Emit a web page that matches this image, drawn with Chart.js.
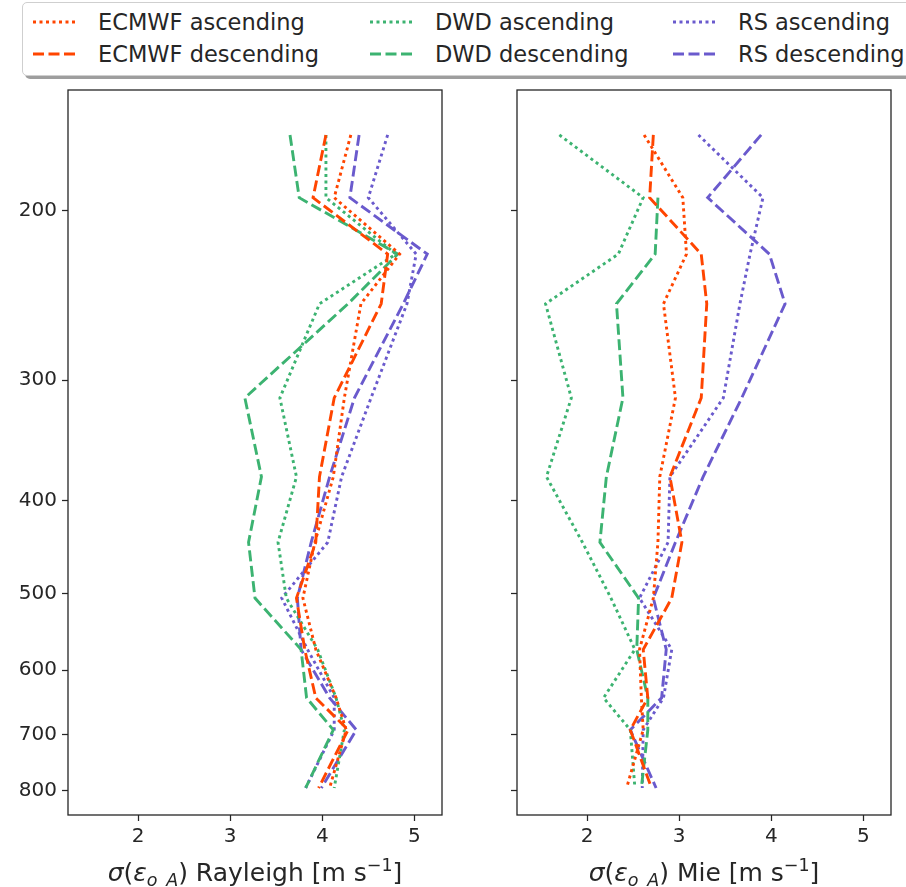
<!DOCTYPE html>
<html>
<head>
<meta charset="utf-8">
<script src="https://cdn.jsdelivr.net/npm/chart.js@4.4.1/dist/chart.umd.min.js"></script>
<style>
  html, body { margin: 0; padding: 0; background: #fff; }
  body { width: 906px; height: 887px; overflow: hidden; position: relative; font-family: "DejaVu Sans", sans-serif; color: #262626; }
  .panel { position: absolute; top: 80px; width: 453px; height: 807px; }
  #legend {
    position: absolute; left: 22px; top: 2px; width: 920px; height: 72px;
    border: 1px solid #cfcfcf; border-radius: 5px; background: #fff;
    box-shadow: 3px 3px 0 rgba(0, 0, 0, 0.38);
  }
  .item { position: absolute; font-size: 22.5px; line-height: 26px; white-space: nowrap; }
  .item svg { position: absolute; }
</style>
</head>
<body>
<div id="legend"></div>
<div class="panel" style="left:0"><canvas id="rayleighChart" width="453" height="807"></canvas></div>
<div class="panel" style="left:453px"><canvas id="mieChart" width="453" height="807"></canvas></div>
<script>
// pressure levels (hPa) of the profile points
const levels = [167, 194, 222, 250, 313, 378, 442, 505, 571, 641, 692, 795];
const pressureTicks = [200, 300, 400, 500, 600, 700, 800];
const sigmaTicks = [2, 3, 4, 5];

// Rayleigh panel
const rayEcmwfAsc  = [4.31, 4.13, 4.84, 4.42, 4.24, 4.12, 3.92, 3.79, 3.93, 4.15, 4.26, 4.08];
const rayEcmwfDesc = [4.04, 3.90, 4.71, 4.64, 4.13, 3.97, 3.93, 3.72, 3.81, 3.93, 4.28, 3.96];
const rayDwdAsc    = [4.04, 4.04, 4.80, 3.97, 3.54, 3.72, 3.52, 3.61, 3.95, 4.15, 4.24, 4.13];
const rayDwdDesc   = [3.65, 3.75, 4.82, 4.28, 3.16, 3.34, 3.20, 3.27, 3.77, 3.83, 4.12, 3.82];
const rayRsAsc     = [4.71, 4.50, 5.02, 4.92, 4.53, 4.21, 4.06, 3.56, 3.84, 4.13, 4.13, 3.82];
const rayRsDesc    = [4.40, 4.30, 5.14, 4.88, 4.35, 4.08, 3.88, 3.73, 3.77, 4.08, 4.37, 3.99];

// Mie panel
const mieEcmwfAsc  = [2.62, 3.04, 3.08, 2.83, 2.96, 2.79, 2.77, 2.72, 2.57, 2.59, 2.61, 2.43];
const mieEcmwfDesc = [2.72, 2.68, 3.24, 3.30, 3.24, 2.90, 3.03, 2.92, 2.61, 2.66, 2.47, 2.70];
const mieDwdAsc    = [1.70, 2.61, 2.34, 1.55, 1.83, 1.56, 1.95, 2.26, 2.52, 2.18, 2.47, 2.52];
const mieDwdDesc   = [null, 2.77, 2.74, 2.32, 2.39, 2.21, 2.14, 2.56, 2.54, 2.66, 2.66, 2.59];
const mieRsAsc     = [3.21, 3.91, 3.77, 3.66, 3.48, 2.90, 2.88, 2.57, 2.92, 2.83, 2.61, 2.60];
const mieRsDesc    = [3.89, 3.31, 3.98, 4.15, 3.68, 3.26, 2.96, 2.72, 2.86, 2.81, 2.47, 2.75];

const RED = '#FF4500', GREEN = '#3CB371', PURPLE = '#6A5ACD';
const DOTTED = [3, 3.5], DASHED = [11, 4.5];
const INK = '#262626';
const FONT = 'DejaVu Sans';

function series(label, values, color, dash) {
    return {
        label: label,
        data: levels.map((p, i) => ({ x: values[i], y: p })).filter(pt => pt.x !== null),
        borderColor: color,
        backgroundColor: color,
        borderWidth: 2.9,
        borderDash: dash,
        pointRadius: 0,
        tension: 0,
        fill: false
    };
}

// box around the axes, like matplotlib spines
const framePlugin = {
    id: 'frame',
    afterDatasetsDraw(chart) {
        const a = chart.chartArea, ctx = chart.ctx;
        ctx.save();
        ctx.strokeStyle = INK;
        ctx.lineWidth = 1.3;
        ctx.strokeRect(a.left, a.top, a.right - a.left, a.bottom - a.top);
        ctx.restore();
    }
};

// x axis title with sub/superscripts
const mathTitle = {
    id: 'mathTitle',
    afterDraw(chart, args, opts) {
        const ctx = chart.ctx, a = chart.chartArea;
        const up = '25px "' + FONT + '"', it = 'italic 25px "' + FONT + '"';
        const sm = '17.5px "' + FONT + '"', smIt = 'italic 17.5px "' + FONT + '"';
        const parts = [
            { t: 'σ', f: it, dy: 0 },
            { t: '(', f: up, dy: 0 },
            { t: 'ε', f: it, dy: 0 },
            { t: 'o_A', f: smIt, dy: 5 },
            { t: ') ' + opts.name + ' [m s', f: up, dy: 0 },
            { t: '\u22121', f: sm, dy: -10 },
            { t: ']', f: up, dy: 0 }
        ];
        ctx.save();
        let total = 0;
        parts.forEach(p => { ctx.font = p.f; p.w = ctx.measureText(p.t).width; total += p.w; });
        let x = (a.left + a.right) / 2 - total / 2;
        ctx.fillStyle = INK;
        ctx.textBaseline = 'alphabetic';
        parts.forEach(p => { ctx.font = p.f; ctx.fillText(p.t, x, opts.y + p.dy); x += p.w; });
        ctx.restore();
    }
};

function noPad(s) {
    s.paddingTop = 0;
    s.paddingBottom = 0;
    s.paddingLeft = 0;
    s.paddingRight = 0;
}

function makePanel(id, datasets, name, showYLabels, yWidth, padRight) {
    const tickFont = { family: FONT, size: 20 };
    return new Chart(document.getElementById(id), {
        type: 'line',
        data: { datasets: datasets },
        options: {
            responsive: false,
            animation: false,
            layout: { padding: { top: 10, right: padRight, left: 0, bottom: 0 } },
            scales: {
                x: {
                    type: 'linear',
                    min: 1.24,
                    max: 5.3,
                    afterBuildTicks: s => { s.ticks = sigmaTicks.map(v => ({ value: v })); },
                    afterFit: s => { s.height = 72; noPad(s); },
                    grid: { display: true, drawOnChartArea: false, drawTicks: true, tickLength: 6, tickColor: INK, tickWidth: 1.25 },
                    border: { display: false },
                    ticks: { font: tickFont, color: INK, padding: 4, maxRotation: 0, autoSkip: false, callback: v => String(v) }
                },
                y: {
                    type: 'logarithmic',
                    reverse: true,
                    min: 150,
                    max: 848,
                    bounds: 'data',
                    afterBuildTicks: s => { s.ticks = pressureTicks.map(v => ({ value: v })); },
                    afterFit: s => { s.width = yWidth; noPad(s); },
                    grid: { display: true, drawOnChartArea: false, drawTicks: true, tickLength: 6, tickColor: INK, tickWidth: 1.25 },
                    border: { display: false },
                    ticks: { display: showYLabels, font: tickFont, color: INK, padding: 5, autoSkip: false, callback: v => String(v) }
                }
            },
            plugins: {
                legend: { display: false },
                tooltip: { enabled: false },
                mathTitle: { name: name, y: 801 }
            }
        },
        plugins: [framePlugin, mathTitle]
    });
}

makePanel('rayleighChart', [
    series('ECMWF ascending', rayEcmwfAsc, RED, DOTTED),
    series('ECMWF descending', rayEcmwfDesc, RED, DASHED),
    series('DWD ascending', rayDwdAsc, GREEN, DOTTED),
    series('DWD descending', rayDwdDesc, GREEN, DASHED),
    series('RS ascending', rayRsAsc, PURPLE, DOTTED),
    series('RS descending', rayRsDesc, PURPLE, DASHED)
], 'Rayleigh', true, 68, 11);

makePanel('mieChart', [
    series('ECMWF ascending', mieEcmwfAsc, RED, DOTTED),
    series('ECMWF descending', mieEcmwfDesc, RED, DASHED),
    series('DWD ascending', mieDwdAsc, GREEN, DOTTED),
    series('DWD descending', mieDwdDesc, GREEN, DASHED),
    series('RS ascending', mieRsAsc, PURPLE, DOTTED),
    series('RS descending', mieRsDesc, PURPLE, DASHED)
], 'Mie', false, 64, 15);

// legend, three columns like the original (positions relative to the legend box)
const legendItems = [
    { label: 'ECMWF ascending', color: RED, dash: DOTTED, col: 0, row: 0 },
    { label: 'ECMWF descending', color: RED, dash: DASHED, col: 0, row: 1 },
    { label: 'DWD ascending', color: GREEN, dash: DOTTED, col: 1, row: 0 },
    { label: 'DWD descending', color: GREEN, dash: DASHED, col: 1, row: 1 },
    { label: 'RS ascending', color: PURPLE, dash: DOTTED, col: 2, row: 0 },
    { label: 'RS descending', color: PURPLE, dash: DASHED, col: 2, row: 1 }
];
const colX = [10, 347, 650];
const legend = document.getElementById('legend');
legendItems.forEach(it => {
    const div = document.createElement('div');
    div.className = 'item';
    div.style.left = colX[it.col] + 'px';
    div.style.top = (6 + it.row * 32) + 'px';
    div.innerHTML = '<svg width="44" height="26" style="left:0;top:0"><line x1="0" y1="13" x2="44" y2="13" stroke="' +
        it.color + '" stroke-width="2.9" stroke-dasharray="' + it.dash.join(' ') + '"/></svg>' +
        '<span style="position:absolute;left:65px;top:0">' + it.label + '</span>';
    legend.appendChild(div);
});
</script>
</body>
</html>
